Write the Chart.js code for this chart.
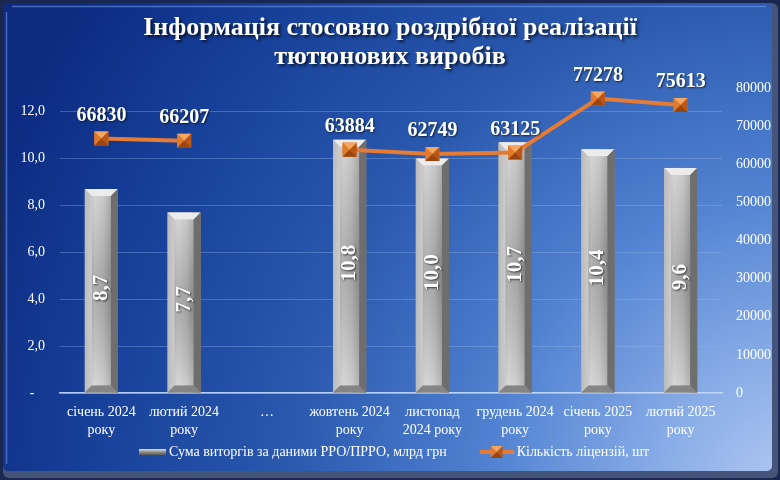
<!DOCTYPE html>
<html>
<head>
<meta charset="utf-8">
<script src="https://cdn.jsdelivr.net/npm/chart.js@4.4.1/dist/chart.umd.min.js"></script>
<style>
  html, body { margin: 0; padding: 0; background: #0c2a80; }
  #wrap { width: 780px; height: 480px; }
</style>
</head>
<body>
<div id="wrap"><canvas id="myChart" width="780" height="480"></canvas></div>
<script>
const months = [
    ['січень 2024', 'року'],
    ['лютий 2024', 'року'],
    '…',
    ['жовтень 2024', 'року'],
    ['листопад', '2024 року'],
    ['грудень 2024', 'року'],
    ['січень 2025', 'року'],
    ['лютий 2025', 'року']
];
const revenue = [8.7, 7.7, null, 10.8, 10.0, 10.7, 10.4, 9.6];
const licenses = [66830, 66207, null, 63884, 62749, 63125, 77278, 75613];
const revenueLabel = 'Сума виторгів за даними РРО/ПРРО, млрд грн';
const licensesLabel = 'Кількість ліцензій, шт';
const titleLines = ['Інформація стосовно роздрібної реалізації', 'тютюнових виробів'];

const serif = "'Liberation Serif', 'DejaVu Serif', serif";

function drawPyramid(c, x, y, h) {
    const tri = (pts, col) => {
        c.beginPath();
        c.moveTo(pts[0], pts[1]);
        c.lineTo(pts[2], pts[3]);
        c.lineTo(x, y);
        c.closePath();
        c.fillStyle = col;
        c.fill();
    };
    tri([x - h, y - h, x + h, y - h], '#f6a862');
    tri([x - h, y - h, x - h, y + h], '#e27a2e');
    tri([x + h, y - h, x + h, y + h], '#b85818');
    tri([x - h, y + h, x + h, y + h], '#9a4510');
}

// legend icons (65px wide, icon sits at the right edge)
function makeIcon(kind) {
    const c = document.createElement('canvas');
    c.width = 65;
    c.height = 14;
    const x = c.getContext('2d');
    if (kind === 'bar') {
        const g = x.createLinearGradient(0, 4, 0, 10);
        g.addColorStop(0, '#e0e0e0');
        g.addColorStop(0.5, '#909090');
        g.addColorStop(1, '#555555');
        x.fillStyle = g;
        x.fillRect(38, 4, 27, 6);
    } else {
        x.strokeStyle = '#e57b34';
        x.lineWidth = 4;
        x.beginPath();
        x.moveTo(31, 7);
        x.lineTo(65, 7);
        x.stroke();
        drawPyramid(x, 48, 7, 6);
    }
    return c;
}

const background = {
    id: 'background',
    beforeDraw(chart) {
        const c = chart.ctx, w = chart.width, h = chart.height;
        c.save();
        c.fillStyle = '#1a2750';
        c.fillRect(0, 0, w, h);
        c.fillStyle = '#45557a';
        c.beginPath();
        c.roundRect(3, 3, w - 5, h - 5, 6);
        c.fill();
        const g = c.createRadialGradient(800, 500, 0, 800, 500, 880);
        g.addColorStop(0, '#b6ccf2');
        g.addColorStop(0.15, '#8cafe8');
        g.addColorStop(0.35, '#5283d2');
        g.addColorStop(0.58, '#2a59ae');
        g.addColorStop(0.82, '#163f98');
        g.addColorStop(1, '#0c2a80');
        c.fillStyle = g;
        c.beginPath();
        c.roundRect(3, 3, w - 11, h - 12, 5);
        c.fill();
        c.strokeStyle = 'rgba(120,160,235,0.55)';
        c.lineWidth = 1.5;
        c.beginPath();
        c.moveTo(12, 6.5);
        c.lineTo(w - 14, 6.5);
        c.moveTo(6.5, 12);
        c.lineTo(6.5, h - 16);
        c.stroke();
        c.restore();
    },
    afterLayout(chart) {
        // legend row sits a little left of centre in the original
        if (chart.legend) {
            chart.legend.left -= 13;
            chart.legend.right -= 13;
        }
        // give the title a drop shadow
        const tb = chart.titleBlock;
        if (tb && !tb._shadowed) {
            const orig = tb.draw.bind(tb);
            tb.draw = function () {
                const c = chart.ctx;
                c.save();
                c.shadowColor = 'rgba(0,0,0,0.7)';
                c.shadowOffsetX = 2;
                c.shadowOffsetY = 2;
                c.shadowBlur = 3;
                orig();
                c.restore();
            };
            tb._shadowed = true;
        }
    }
};

const barLook = {
    id: 'barLook',
    afterDatasetDraw(chart, args) {
        const c = chart.ctx;
        if (args.index === 0) {
            args.meta.data.forEach((el, i) => {
                if (licenses[i] == null) return;
                drawPyramid(c, el.x, el.y, 7);
            });
            return;
        }
        args.meta.data.forEach((el, i) => {
            if (revenue[i] == null) return;
            const p = el.getProps(['x', 'y', 'base', 'width'], true);
            const l = p.x - p.width / 2, r = p.x + p.width / 2, t = p.y, b = p.base;
            const bv = 7;
            c.save();
            const g = c.createLinearGradient(l, 0, r, 0);
            g.addColorStop(0, '#9c9c9c');
            g.addColorStop(0.3, '#c8c8c8');
            g.addColorStop(0.55, '#bababa');
            g.addColorStop(0.8, '#959595');
            g.addColorStop(1, '#606060');
            c.fillStyle = g;
            c.fillRect(l, t, r - l, b - t);
            const fg = c.createLinearGradient(0, t + bv, 0, b - bv);
            fg.addColorStop(0, 'rgba(255,255,255,0.22)');
            fg.addColorStop(0.5, 'rgba(70,70,70,0.2)');
            fg.addColorStop(1, 'rgba(255,255,255,0.28)');
            c.fillStyle = fg;
            c.fillRect(l + bv, t + bv, r - l - 2 * bv, b - t - 2 * bv);
            c.fillStyle = '#ececec';
            c.beginPath();
            c.moveTo(l, t); c.lineTo(r, t); c.lineTo(r - bv, t + bv); c.lineTo(l + bv, t + bv);
            c.closePath(); c.fill();
            c.fillStyle = 'rgba(225,225,225,0.45)';
            c.beginPath();
            c.moveTo(l, t); c.lineTo(l + bv, t + bv); c.lineTo(l + bv, b - bv); c.lineTo(l, b);
            c.closePath(); c.fill();
            c.fillStyle = '#6e6e6e';
            c.beginPath();
            c.moveTo(r, t); c.lineTo(r - bv, t + bv); c.lineTo(r - bv, b - bv); c.lineTo(r, b);
            c.closePath(); c.fill();
            c.fillStyle = '#858585';
            c.beginPath();
            c.moveTo(l, b); c.lineTo(r, b); c.lineTo(r - bv, b - bv); c.lineTo(l + bv, b - bv);
            c.closePath(); c.fill();
            c.restore();
        });
    },
    afterDatasetsDraw(chart) {
        const c = chart.ctx;
        c.save();
        c.fillStyle = '#ffffff';
        c.shadowColor = 'rgba(0,0,0,0.65)';
        c.shadowOffsetX = 1;
        c.shadowOffsetY = 1;
        c.shadowBlur = 2;
        c.textAlign = 'center';
        c.textBaseline = 'middle';
        c.font = 'bold 21px ' + serif;
        chart.getDatasetMeta(1).data.forEach((el, i) => {
            if (revenue[i] == null) return;
            const p = el.getProps(['x', 'y', 'base'], true);
            c.save();
            c.translate(p.x, (p.y + p.base) / 2 - 3);
            c.rotate(-Math.PI / 2);
            c.fillText(revenue[i].toFixed(1).replace('.', ','), 0, 0);
            c.restore();
        });
        c.font = 'bold 20px ' + serif;
        chart.getDatasetMeta(0).data.forEach((el, i) => {
            if (licenses[i] == null) return;
            c.fillText(String(licenses[i]), el.x, el.y - 23);
        });
        c.restore();
    }
};

const ctx = document.getElementById('myChart').getContext('2d');
const myChart = new Chart(ctx, {
    data: {
        labels: months,
        datasets: [
            {
                type: 'line',
                label: licensesLabel,
                data: licenses,
                yAxisID: 'y1',
                borderColor: '#e57b34',
                backgroundColor: '#e57b34',
                borderWidth: 4,
                pointStyle: 'rect',
                pointRadius: 10,
                pointBackgroundColor: '#d86e26',
                pointBorderWidth: 0,
                tension: 0,
                order: 0
            },
            {
                type: 'bar',
                label: revenueLabel,
                data: revenue,
                yAxisID: 'y',
                backgroundColor: '#b0b0b0',
                barPercentage: 0.4,
                categoryPercentage: 1,
                order: 1
            }
        ]
    },
    options: {
        responsive: false,
        animation: false,
        layout: { padding: { left: 0, right: 0, top: 0, bottom: 11 } },
        plugins: {
            title: {
                display: true,
                text: titleLines,
                color: '#ffffff',
                font: { family: serif, size: 26, weight: 'bold', lineHeight: 1.12 },
                padding: { top: 14, bottom: 16 }
            },
            legend: {
                position: 'bottom',
                labels: {
                    color: '#ffffff',
                    font: { family: serif, size: 14 },
                    usePointStyle: true,
                    pointStyleWidth: 57,
                    padding: 6,
                    generateLabels() {
                        return [
                            { text: revenueLabel, pointStyle: makeIcon('bar'), fontColor: '#ffffff', datasetIndex: 1, lineWidth: 0 },
                            { text: licensesLabel, pointStyle: makeIcon('line'), fontColor: '#ffffff', datasetIndex: 0, lineWidth: 0 }
                        ];
                    }
                }
            },
            tooltip: { enabled: false }
        },
        scales: {
            x: {
                grid: { display: false, drawTicks: false },
                border: { color: 'rgba(200,218,250,0.9)', width: 1.5 },
                ticks: {
                    color: '#ffffff',
                    font: { family: serif, size: 14, lineHeight: 1.3 },
                    padding: 10,
                    maxRotation: 0,
                    autoSkip: false
                },
                afterFit(scale) { scale.height = 46; }
            },
            y: {
                position: 'left',
                min: 0,
                max: 13,
                grid: { color: 'rgba(150,185,240,0.35)', drawTicks: false },
                border: { display: false },
                ticks: {
                    stepSize: 2,
                    includeBounds: false,
                    color: '#ffffff',
                    font: { family: serif, size: 14 },
                    padding: 15,
                    callback: v => v === 0 ? '-   ' : v.toFixed(1).replace('.', ',')
                },
                afterFit(scale) { scale.width = 60; }
            },
            y1: {
                position: 'right',
                min: 0,
                max: 80000,
                grid: { drawOnChartArea: false, drawTicks: false },
                border: { display: false },
                ticks: {
                    stepSize: 10000,
                    color: '#ffffff',
                    font: { family: serif, size: 14 },
                    padding: 14,
                    callback: v => String(v)
                },
                afterFit(scale) { scale.width = 58; }
            }
        }
    },
    plugins: [background, barLook]
});
</script>
</body>
</html>
